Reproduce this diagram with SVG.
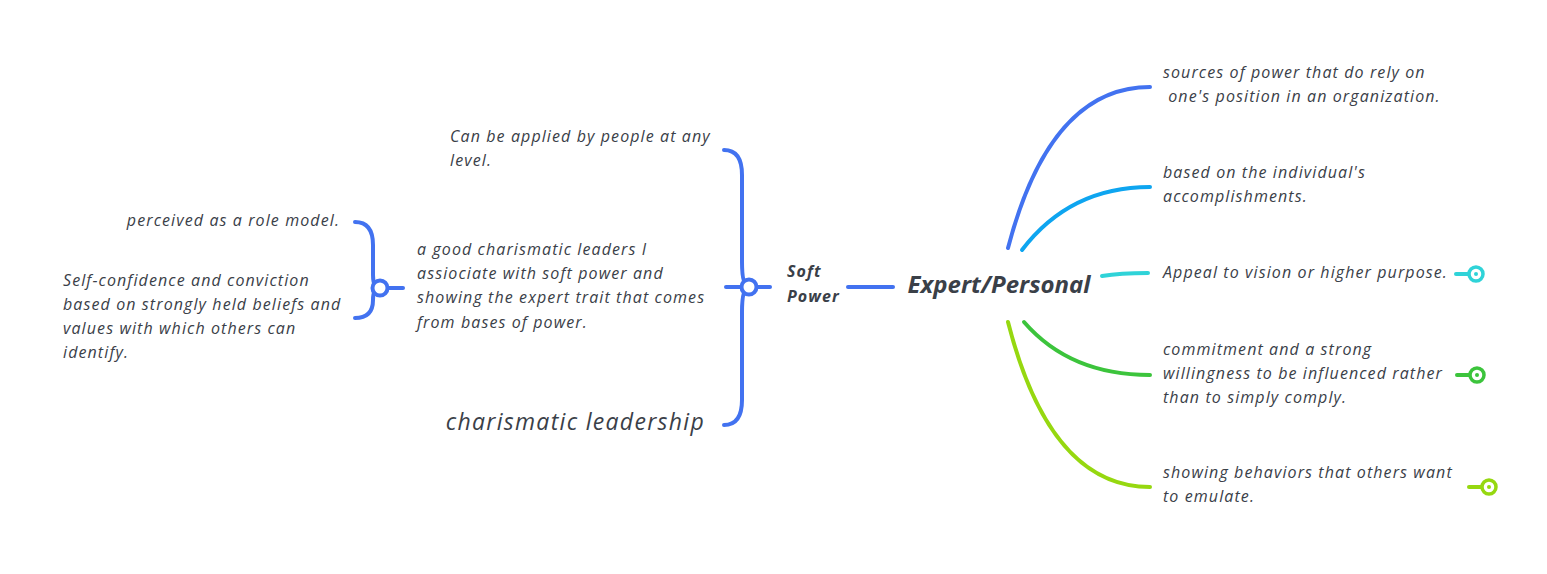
<svg xmlns="http://www.w3.org/2000/svg" width="1547" height="574" viewBox="0 0 1547 574">
<style>
text{font-family:"Open Sans","Liberation Sans",sans-serif;font-style:italic;fill:#3a4048;font-size:16px;letter-spacing:1.1px}
.b{font-weight:bold}
.big{font-size:24px;letter-spacing:0px}
.cl{font-size:23px;letter-spacing:1.3px}
.c path,.c line{fill:none;stroke-width:4;stroke-linecap:round}
.bl{stroke:#4272f0}
</style>
<rect width="1547" height="574" fill="#fff"/>
<g class="c" id="connectors">
<line class="bl" x1="848" y1="287" x2="893" y2="287"/>
<path class="bl" d="M724,150 Q742,150 742,175 L742,262 Q742,287 749,287 Q742,287 742,312 L742,400 Q742,425 724,425"/>
<line class="bl" x1="726" y1="287" x2="742" y2="287"/>
<line class="bl" x1="756" y1="287" x2="770" y2="287"/>
<path class="bl" d="M355,222 Q373,222 373,245 L373,275 Q373,288 380,288 Q373,288 373,300 L373,300 Q373,318 355,318"/>
<line class="bl" x1="387" y1="288" x2="403" y2="288"/>
<circle cx="749" cy="287" r="7.5" fill="#fff" stroke="#4272f0" stroke-width="4"/>
<circle cx="380" cy="288" r="7.5" fill="#fff" stroke="#4272f0" stroke-width="4"/>
<path stroke="#4272f0" d="M1008,248 Q1050,87 1150,87"/>
<path stroke="#0ea5f0" d="M1022,250 Q1070,187 1150,187"/>
<path stroke="#2fd3d8" d="M1102,276 Q1120,273 1148,273"/>
<path stroke="#3cc43c" d="M1024,322 Q1070,375 1150,375"/>
<path stroke="#96d810" d="M1008,322 Q1050,487 1150,487"/>
<line stroke="#2fd3d8" x1="1456" y1="274" x2="1468" y2="274"/>
<circle cx="1476" cy="274" r="7" fill="#fff" stroke="#2fd3d8" stroke-width="3.5"/><circle cx="1476" cy="274" r="2" fill="#2fd3d8"/>
<line stroke="#3cc43c" x1="1457" y1="375" x2="1469" y2="375"/>
<circle cx="1477" cy="375" r="7" fill="#fff" stroke="#3cc43c" stroke-width="3.5"/><circle cx="1477" cy="375" r="2" fill="#3cc43c"/>
<line stroke="#96d810" x1="1469" y1="487" x2="1481" y2="487"/>
<circle cx="1489" cy="487" r="7" fill="#fff" stroke="#96d810" stroke-width="3.5"/><circle cx="1489" cy="487" r="2" fill="#96d810"/>
</g>
<g id="expert"><text class="b big" x="999" y="293" text-anchor="middle">Expert/Personal</text></g>
<g id="soft"><text class="b" x="787" y="277">Soft</text><text class="b" x="787" y="302">Power</text></g>
<g id="n1"><text x="1163" y="78">sources of power that do rely on</text><text x="1163" y="102" xml:space="preserve"> one's position in an organization.</text></g>
<g id="n2"><text x="1163" y="178">based on the individual's</text><text x="1163" y="202">accomplishments.</text></g>
<g id="n3"><text x="1163" y="278">Appeal to vision or higher purpose.</text></g>
<g id="n4"><text x="1163" y="355">commitment and a strong</text><text x="1163" y="379">willingness to be influenced rather</text><text x="1163" y="403">than to simply comply.</text></g>
<g id="n5"><text x="1163" y="478">showing behaviors that others want</text><text x="1163" y="502">to emulate.</text></g>
<g id="l1"><text x="450" y="142">Can be applied by people at any</text><text x="450" y="166">level.</text></g>
<g id="l2"><text x="417" y="255">a good charismatic leaders I</text><text x="417" y="279">assiociate with soft power and</text><text x="417" y="303">showing the expert trait that comes</text><text x="417" y="328">from bases of power.</text></g>
<g id="l3"><text class="cl" x="705" y="430" text-anchor="end">charismatic leadership</text></g>
<g id="ll1"><text x="340" y="226" text-anchor="end">perceived as a role model.</text></g>
<g id="ll2"><text x="63" y="286">Self-confidence and conviction</text><text x="63" y="310">based on strongly held beliefs and</text><text x="63" y="334">values with which others can</text><text x="63" y="358">identify.</text></g>
</svg>
